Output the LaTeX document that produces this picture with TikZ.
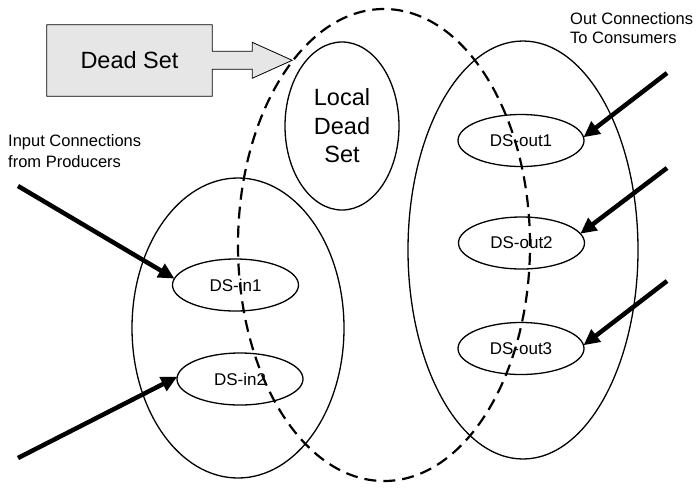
\documentclass[tikz,border=0pt]{standalone}
\usepackage{fontspec}
\setmainfont{Liberation Sans}
\usetikzlibrary{shapes.geometric,arrows.meta,backgrounds}
\definecolor{deadgray}{RGB}{230,230,230}
\begin{document}
\begin{tikzpicture}[x=1pt,y=-1pt,
  ell/.style={draw, ellipse, inner sep=0pt, outer sep=0pt, line width=1.3pt},
  smallell/.style={ell, minimum width=126pt, minimum height=52pt, font=\fontsize{17}{20}\selectfont},
  bigarrow/.style={line width=4.5pt, -{Triangle[length=16pt,width=15pt]}},
  lbl/.style={font=\fontsize{16.5}{21}\selectfont, align=left, inner sep=0pt, anchor=north west},
  deadshape/.style={fill=deadgray, draw, line width=0.8pt},
]
\useasboundingbox (0,0) rectangle (696,488);

% Dead Set box with hollow arrow
\node[minimum width=165pt, minimum height=71pt, inner sep=0pt,
      font=\fontsize{23.5}{28}\selectfont] (dead) at (129.5,60.5) {Dead Set};
\begin{scope}[on background layer]
\draw[deadshape] (dead.north west) -- (dead.north east) -- ++(0,26.5) -- ++(40,0)
  -- ++(0,-9) -- ++(40,18) -- ++(-40,18) -- ++(0,-9) -- ++(-40,0)
  -- (dead.south east) -- (dead.south west) -- cycle;
\end{scope}

% big sets
\node[ell, minimum width=212pt, minimum height=300pt] (inset) at (238,328) {};
\node[ell, minimum width=230pt, minimum height=418pt] (outset) at (523,250) {};
\node[ell, minimum width=292pt, minimum height=472pt, line width=2.2pt,
      dash pattern=on 12pt off 7pt] (ldset) at (384,245) {};

% local dead set
\node[ell, minimum width=114pt, minimum height=168pt, align=center,
      font=\fontsize{23.5}{28.5}\selectfont] (local) at (342,126) {Local\\Dead\\Set};

% small sets
\node[smallell] (dsin1) at (235.5,285) {DS-in1};
\node[smallell] (dsin2) at (240,379) {DS-in2};
\node[smallell] (dsout1) at (521,140.5) {DS-out1};
\node[smallell] (dsout2) at (521.5,243) {DS-out2};
\node[smallell] (dsout3) at (521,348.5) {DS-out3};

% labels
\node[lbl] (inlbl) at (8,134.5) {Input Connections\\from Producers};
\node[lbl, font=\fontsize{16.5}{18.5}\selectfont] (outlbl) at (570,12.5) {Out Connections\\To Consumers};

% connection arrows
\coordinate (i1) at (18,186);
\coordinate (i2) at (18,458);
\coordinate (o1) at (667,73);
\coordinate (o2) at (667,168);
\coordinate (o3) at (667,281);
\draw[bigarrow] (i1) -- (dsin1.174);
\draw[bigarrow] (i2) -- (dsin2.178);
\draw[bigarrow] (o1) -- (dsout1.3);
\draw[bigarrow] (o2) -- (dsout2.9);
\draw[bigarrow] (o3) -- (dsout3.3);
\end{tikzpicture}
\end{document}
